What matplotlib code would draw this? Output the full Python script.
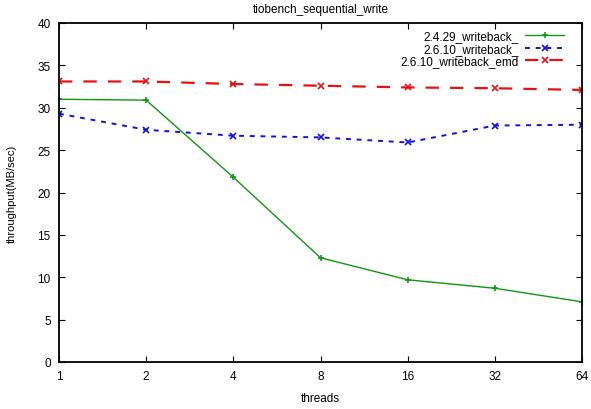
import matplotlib
matplotlib.use("Agg")
import matplotlib.pyplot as plt

threads = [1, 2, 4, 8, 16, 32, 64]
wb_2429 = [31.0, 30.9, 21.8, 12.3, 9.7, 8.7, 7.1]
wb_2610 = [29.3, 27.4, 26.7, 26.5, 25.9, 27.9, 28.0]
wb_2610_emd = [33.1, 33.1, 32.8, 32.6, 32.4, 32.3, 32.1]
labels = ["2.4.29_writeback_", "2.6.10_writeback_", "2.6.10_writeback_emd"]

plt.rcParams['font.family'] = ['Liberation Sans', 'DejaVu Sans']

fig = plt.figure(figsize=(5.91, 4.10), dpi=100)
ax = fig.add_axes([59 / 591, 47 / 410, 523 / 591, 339 / 410])

ax.plot(threads, wb_2429, color='#129512', lw=1.0, marker='+', ms=4, mew=1.2,
        label=labels[0])
ax.plot(threads, wb_2610, color='#1010e0', lw=1.4, ls=(0, (2.5, 3)), marker='x', ms=4,
        mew=1.2, label=labels[1])
ax.plot(threads, wb_2610_emd, color='#e81010', lw=1.6, ls=(0, (6, 5)), marker='x', ms=4,
        mew=1.2, label=labels[2])

ax.set_xscale('log', base=2)
ax.set_xlim(1, 64)
ax.set_ylim(0, 40)
ax.set_xticks(threads)
ax.set_xticklabels([str(t) for t in threads])
ax.set_yticks(range(0, 41, 5))
ax.minorticks_off()
ax.tick_params(direction='in', top=True, right=True, length=4, width=0.8,
               labelsize=8.5, pad=6)
for s in ax.spines.values():
    s.set_linewidth(1.3)

ax.set_title('tiobench_sequential_write', fontsize=8.5, pad=8)
ax.set_xlabel('threads', fontsize=8.5, labelpad=7)
ax.set_ylabel('throughput(MB/sec)', fontsize=8, labelpad=15)

ax.legend(loc='upper right', frameon=False, markerfirst=False, fontsize=8.5,
          handlelength=3.3, handletextpad=0.6, labelspacing=0.05,
          borderaxespad=0.2, bbox_to_anchor=(0.98, 1.0))

fig.savefig('out.png', dpi=100)
